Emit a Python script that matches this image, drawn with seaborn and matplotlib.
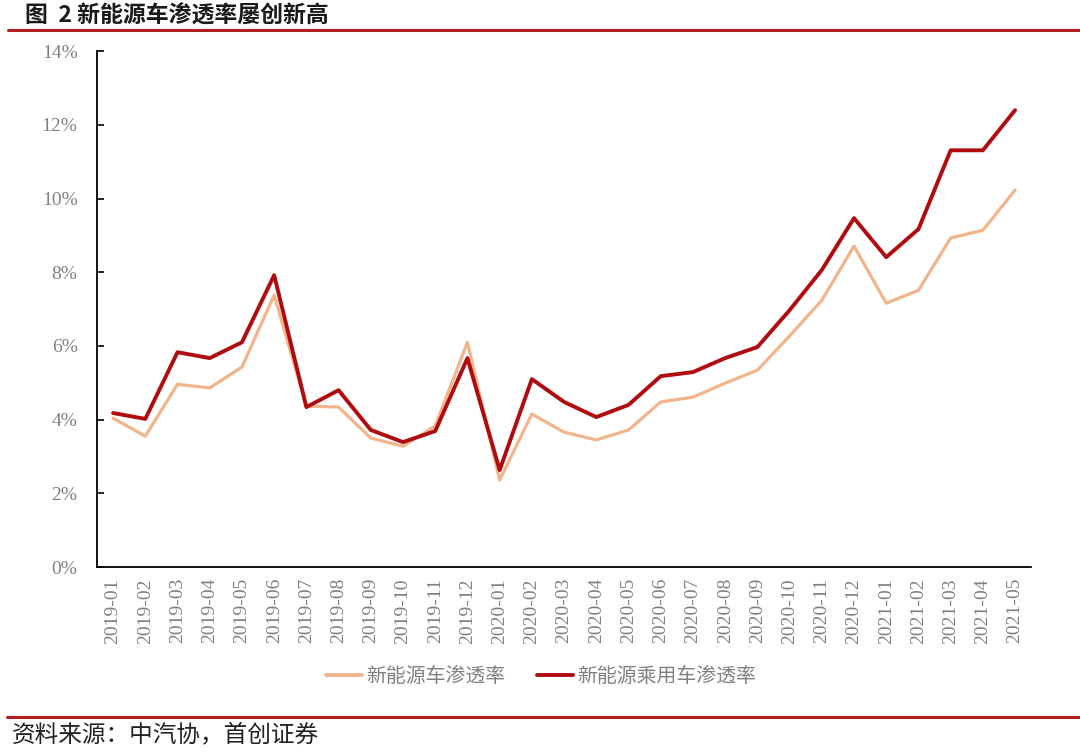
import pandas as pd
import seaborn as sns
import matplotlib.pyplot as plt
from matplotlib.ticker import FixedLocator, PercentFormatter
from matplotlib.lines import Line2D

months = ["2019-01", "2019-02", "2019-03", "2019-04", "2019-05", "2019-06",
          "2019-07", "2019-08", "2019-09", "2019-10", "2019-11", "2019-12",
          "2020-01", "2020-02", "2020-03", "2020-04", "2020-05", "2020-06",
          "2020-07", "2020-08", "2020-09", "2020-10", "2020-11", "2020-12",
          "2021-01", "2021-02", "2021-03", "2021-04", "2021-05"]

# 新能源车渗透率 (%)
nev_rate = [4.04, 3.55, 4.96, 4.86, 5.43, 7.38, 4.37, 4.34, 3.50, 3.28,
            3.83, 6.10, 2.36, 4.15, 3.66, 3.45, 3.72, 4.48, 4.61, 4.99,
            5.34, 6.27, 7.24, 8.71, 7.16, 7.51, 8.93, 9.14, 10.23]

# 新能源乘用车渗透率 (%)
nev_pc_rate = [4.18, 4.02, 5.83, 5.67, 6.10, 7.92, 4.34, 4.80, 3.72, 3.39,
               3.69, 5.67, 2.63, 5.10, 4.48, 4.07, 4.40, 5.18, 5.29, 5.67,
               5.97, 6.97, 8.06, 9.47, 8.41, 9.17, 11.31, 11.31, 12.40]

series_names = ["新能源车渗透率", "新能源乘用车渗透率"]
colors = ["#F2B48A", "#B00C10"]

df = pd.DataFrame({
    "idx": list(range(len(months))) * 2,
    "value": nev_rate + nev_pc_rate,
    "series": [series_names[0]] * len(months) + [series_names[1]] * len(months),
})

sns.set_style("white")
plt.rcParams["font.family"] = ["Noto Sans CJK SC", "DejaVu Sans"]

fig = plt.figure(figsize=(10.8, 7.53), dpi=100)
ax = fig.add_axes([0.0898, 0.247, 0.865, 0.685])

for name, col, lw in zip(series_names, colors, [2.3, 2.8]):
    sns.lineplot(data=df[df["series"] == name], x="idx", y="value",
                 color=col, linewidth=lw, ax=ax, legend=False)

ax.set_xlim(-0.5, len(months) - 0.5)
ax.set_ylim(0, 14)
ax.set_xlabel("")
ax.set_ylabel("")

serif = ["Liberation Serif", "DejaVu Serif"]
grey = "#808080"

ax.set_yticks(range(0, 15, 2))
ax.yaxis.set_major_formatter(PercentFormatter(decimals=0))
ax.set_xticks(range(len(months)))
ax.set_xticklabels(months, rotation=90, family=serif, color=grey, fontsize=14)
for t in ax.get_yticklabels():
    t.set_family(serif)
    t.set_color(grey)
    t.set_fontsize(14)

ax.xaxis.set_minor_locator(FixedLocator([i + 0.5 for i in range(-1, len(months))]))
ax.tick_params(axis="x", which="major", length=0, pad=8)
ax.tick_params(axis="x", which="minor", direction="in", length=5, width=1.2, color="black")
ax.tick_params(axis="y", direction="in", length=5, width=1.2, color="black", pad=14, left=True)

for s in ["top", "right"]:
    ax.spines[s].set_visible(False)
for s in ["left", "bottom"]:
    ax.spines[s].set_color("black")
    ax.spines[s].set_linewidth(1.3)

handles = [Line2D([], [], color=c, linewidth=lw) for c, lw in zip(colors, [2.8, 2.8])]
leg = fig.legend(handles, series_names, loc="center", ncol=2,
                 bbox_to_anchor=(541 / 1080, 1 - 676 / 753), frameon=False,
                 fontsize=14.3, handlelength=1.8, handletextpad=0.2,
                 columnspacing=1.6)
for t in leg.get_texts():
    t.set_color(grey)

# header and footer
fig.text(25 / 1080, 1 - 16 / 753, "图  2 新能源车渗透率屡创新高", fontsize=16.5,
         fontweight="bold", color="#1a1a1a", va="center", ha="left")
fig.add_artist(Line2D([8 / 1080, 1], [1 - 30 / 753] * 2, color="#B01E23", linewidth=2.2))
fig.add_artist(Line2D([7 / 1080, 1], [1 - 717 / 753] * 2, color="#B01E23", linewidth=2.2))
fig.text(12 / 1080, 1 - 735 / 753, "资料来源：中汽协，首创证券", fontsize=17,
         style="italic", color="#222222", va="center", ha="left")

fig.savefig("out.png", dpi=100)
